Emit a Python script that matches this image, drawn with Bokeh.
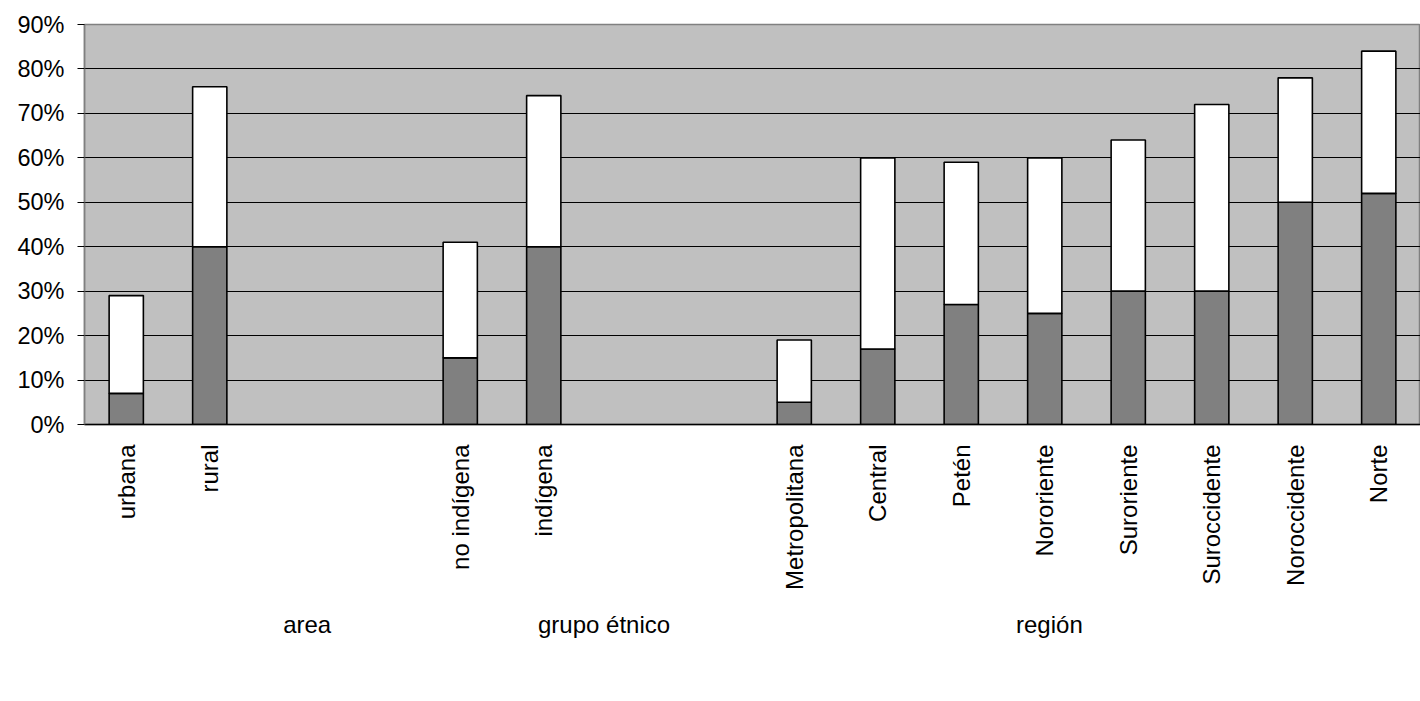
import math
from bokeh.plotting import figure
from bokeh.models import (FactorRange, Legend, LegendItem, PrintfTickFormatter,
                          SingleIntervalTicker, ColumnDataSource, Range1d,
                          CategoricalAxis)
from bokeh.embed import file_html
from bokeh.resources import INLINE

# ---- data ----
group_names = ["area", "grupo étnico", "región"]
area_cats = ["urbana", "rural"]
etnico_cats = ["no indígena", "indígena"]
region_cats = ["Metropolitana", "Central", "Petén", "Nororiente",
               "Suroriente", "Suroccidente", "Noroccidente", "Norte"]

pobreza_extrema = [7, 40, 15, 40, 5, 17, 27, 25, 30, 30, 50, 52]
pobreza_no_extrema = [22, 36, 26, 34, 14, 43, 32, 35, 34, 42, 28, 32]

series_labels = ["Pobreza extrema", "Pobreza no extrema"]
y_ticks_max = 90

FONT = "Liberation Sans"

# each group on the axis is followed by empty slots, as in the original chart
group_cats = [area_cats + [" ", "  "], etnico_cats + ["   ", "    "], region_cats]
factors = [c for cats in group_cats for c in cats]
bar_x = area_cats + etnico_cats + region_cats

# group-label axis: a categorical range whose unit is two slots, padded by half a
# unit on each side, so that group names sit at the centres of their spans
n_slots = len(factors)
n_units = n_slots // 2 - 1
centers, start = [], 0
for cats in group_cats:
    centers.append(start + len(cats) / 2)
    start += len(cats)
center_idx = {int(c / 2 - 1): g for c, g in zip(centers, group_names)}
group_factors = [center_idx.get(i, " " * (i + 1)) for i in range(n_units)]

source = ColumnDataSource(data=dict(x=bar_x, ext=pobreza_extrema, noext=pobreza_no_extrema))

p = figure(
    x_range=FactorRange(*factors, factor_padding=0, range_padding=0),
    y_range=Range1d(0, y_ticks_max),
    frame_width=1336, frame_height=400,
    min_border_left=84, min_border_right=0, min_border_top=24, min_border_bottom=0,
    output_backend="svg", toolbar_location=None,
    background_fill_color="#C0C0C0", border_fill_color="white",
)
p.extra_x_ranges = {"groups": FactorRange(*group_factors, factor_padding=0,
                                          range_padding=1, range_padding_units="absolute")}

renderers = p.vbar_stack(["ext", "noext"], x="x", width=0.41, source=source,
                         fill_color=["#808080", "#FFFFFF"], line_color="black",
                         line_width=1.6)

p.outline_line_color = "#808080"
p.outline_line_width = 1.5

p.xgrid.grid_line_color = None
p.ygrid.grid_line_color = "black"
p.ygrid.grid_line_width = 1

p.yaxis.ticker = SingleIntervalTicker(interval=10, num_minor_ticks=0)
p.yaxis.formatter = PrintfTickFormatter(format="%d%%")
p.yaxis.major_label_text_font = FONT
p.yaxis.major_label_text_font_size = "23.5px"
p.yaxis.major_label_text_color = "black"
p.yaxis.major_tick_out = 7
p.yaxis.major_tick_in = 0
p.yaxis.major_tick_line_color = "black"
p.yaxis.minor_tick_line_color = None
p.yaxis.axis_line_color = "#808080"
p.yaxis.axis_line_width = 1.5
p.yaxis.major_label_standoff = 13

p.xaxis.major_label_orientation = math.pi / 2
p.xaxis.major_label_text_font = FONT
p.xaxis.major_label_text_font_size = "24px"
p.xaxis.major_label_text_color = "black"
p.xaxis.major_tick_line_color = None
p.xaxis.major_tick_out = 0
p.xaxis.major_tick_in = 0
p.xaxis.major_label_standoff = 20
p.xaxis.axis_line_color = "black"
p.xaxis.axis_line_width = 1.5

gaxis = CategoricalAxis(
    x_range_name="groups",
    axis_line_color=None, major_tick_line_color=None, minor_tick_line_color=None,
    major_tick_out=0, major_tick_in=0, major_label_standoff=18,
    major_label_orientation="horizontal",
    major_label_text_font=FONT, major_label_text_font_size="24px",
    major_label_text_color="black",
    axis_label=" ", axis_label_standoff=6,
    axis_label_text_font=FONT, axis_label_text_font_size="24px",
)
p.add_layout(gaxis, "below")

legend = Legend(
    items=[LegendItem(label=series_labels[0], renderers=[renderers[0]]),
           LegendItem(label=series_labels[1], renderers=[renderers[1]])],
    orientation="horizontal", location="center",
    border_line_color=None, background_fill_alpha=0,
    label_text_font=FONT, label_text_font_size="26px", label_text_color="black",
    label_height=26, glyph_width=17, glyph_height=15, label_standoff=13, spacing=17,
    padding=0, margin=0,
)
p.add_layout(legend, "below")

open("out.html", "w").write(file_html(p, INLINE))
